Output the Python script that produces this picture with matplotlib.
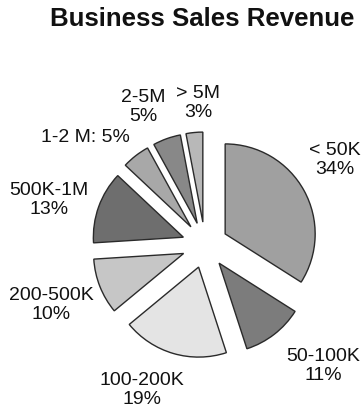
import matplotlib.pyplot as plt

plt.rcParams['font.family'] = ['Liberation Sans', 'DejaVu Sans']

# Slices, clockwise from 12 o'clock
categories = ['< 50K', '50-100K', '100-200K', '200-500K', '500K-1M', '1-2 M', '2-5M', '> 5M']
shares = [34, 11, 19, 10, 13, 5, 5, 3]
label_text = ['< 50K\n34%', '50-100K\n11%', '100-200K\n19%', '200-500K\n10%',
              '500K-1M\n13%', '1-2 M: 5%', '2-5M\n5%', '> 5M\n3%']

colors = ['#a0a0a0', '#7c7c7c', '#e4e4e4', '#c6c6c6',
          '#6e6e6e', '#a8a8a8', '#888888', '#b8b8b8']
# label positions in pixel coords (x, y from top)
label_pos = [(335, 160), (323, 366), (142, 390), (51, 305),
             (49, 200), (85, 137), (143, 107), (198, 103)]

W, H = 364, 411
fig = plt.figure(figsize=(W / 100, H / 100), dpi=100)
ax = fig.add_axes([0, 0, 1, 1])

# explode is in data units (pixels here)
ax.pie(shares, colors=colors, startangle=90, counterclock=False,
       center=(205, H - 245), radius=90, explode=[23] * len(shares),
       wedgeprops=dict(edgecolor='#2a2a2a', linewidth=1.0))
ax.set_xlim(0, W)
ax.set_ylim(0, H)
ax.set_aspect('auto')
ax.axis('off')

for txt, (x, y) in zip(label_text, label_pos):
    ax.text(x, H - y, txt, ha='center', va='center', fontsize=14,
            linespacing=1.1, color='#111111')

ax.text(202, H - 19, 'Business Sales Revenue', ha='center', va='center',
        fontsize=18.6, fontweight='bold', color='#111111')

fig.savefig('out.png', dpi=100)
